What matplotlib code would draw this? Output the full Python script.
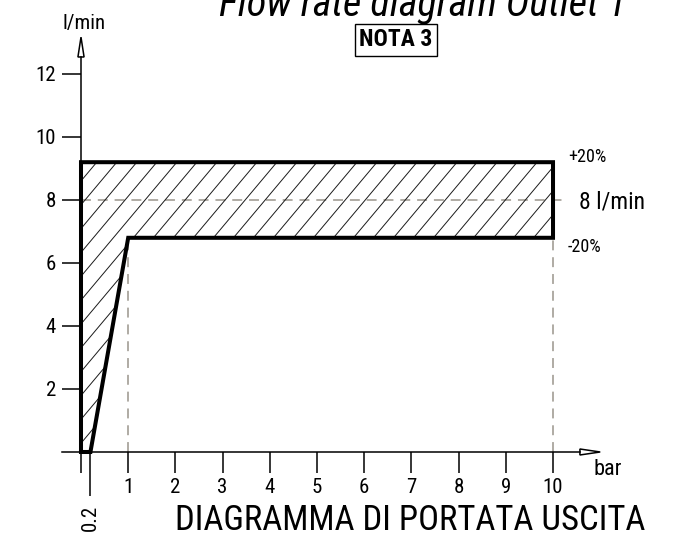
import matplotlib
matplotlib.use('Agg')
import matplotlib.pyplot as plt
import numpy as np
from matplotlib.patches import Polygon

plt.rcParams['font.family'] = ['Roboto Condensed', 'Liberation Sans Narrow',
                               'DejaVu Sans']

# flow band (bar, l/min)
band_bar = [0, 0.2, 1, 10, 10, 0]
band_flow = [0, 0, 6.8, 6.8, 9.2, 9.2]
nominal_flow = 8
knee_bar = [1, 10]
knee_flow = 6.8
x_ticks = [0, 1, 2, 3, 4, 5, 6, 7, 8, 9, 10]
x_labels = ['', '1', '2', '3', '4', '5', '6', '7', '8', '9', '10']
y_ticks = [2, 4, 6, 8, 10, 12]
y_labels = ['2', '4', '6', '8', '10', '12']

GREY = '#9a958c'

fig = plt.figure(figsize=(6.84, 5.4), dpi=100)
ax = fig.add_axes([0, 0, 1, 1])
ax.set_xlim(-1.716, 12.775)
ax.set_ylim(-2.794, 14.349)
ax.patch.set_visible(False)

# axes as spines crossing at the origin
for side in ('top', 'right'):
    ax.spines[side].set_visible(False)
ax.spines['left'].set_position(('data', 0))
ax.spines['bottom'].set_position(('data', 0))
ax.spines['left'].set_bounds(0, 12.54)
ax.spines['bottom'].set_bounds(-0.4, 10.57)
for sp in ('left', 'bottom'):
    ax.spines[sp].set_linewidth(1.1)

ax.set_xticks(x_ticks, x_labels)
ax.set_yticks(y_ticks, y_labels)
ax.set_xticks([0.2], ['0.2'], minor=True)
ax.tick_params(axis='x', which='major', direction='out', length=15, width=1.1,
               pad=4, labelsize=15)
ax.tick_params(axis='x', which='minor', direction='out', length=32, width=1.1,
               pad=6, labelsize=15, labelrotation=90)
ax.tick_params(axis='y', direction='out', length=14, width=1.1, pad=4,
               labelsize=15)

# open arrow heads
ax.add_patch(Polygon([[10.57, 0.095], [11.0, 0], [10.57, -0.095]], closed=True,
                     fill=False, lw=1.1, clip_on=False))
ax.add_patch(Polygon([[-0.065, 12.54], [0, 13.17], [0.065, 12.54]], closed=True,
                     fill=False, lw=1.1, clip_on=False))

# dashed reference lines
ax.plot([0, 10.32], [nominal_flow, nominal_flow], color=GREY, lw=1.1,
        linestyle=(0, (6.5, 4.5)))
for xb in knee_bar:
    ax.plot([xb, xb], [0, knee_flow], color=GREY, lw=1.1,
            linestyle=(0, (6.5, 4.5)))

# hatched tolerance band, hatch drawn as thin lines clipped to the band
band = Polygon(np.column_stack([band_bar, band_flow]), closed=True,
               facecolor='none', edgecolor='none')
ax.add_patch(band)
slope = 1.785
for c in np.arange(-4.82, 10.5, 0.424):
    ln, = ax.plot([c, c + 10 / slope], [0, 10], color='#1a1a1a', lw=0.7)
    ln.set_clip_path(band)
ax.plot(band_bar + band_bar[:1], band_flow + band_flow[:1], color='black',
        lw=2.9, solid_joinstyle='miter')

ax.text(10.32, 9.37, '+20%', fontsize=13, va='center', ha='left')
ax.text(10.55, 7.94, '8 l/min', fontsize=17, va='center', ha='left')
ax.text(10.32, 6.5, '-20%', fontsize=13, va='center', ha='left')
ax.text(10.85, -0.57, 'bar', fontsize=16, va='center', ha='left')

fig.text(84 / 684, 1 - 24 / 540, 'l/min', fontsize=15, ha='center', va='center')
fig.text(423 / 684, 1 - 16 / 540, 'Flow rate diagram Outlet 1', fontsize=29,
         style='italic', ha='center', va='baseline')
fig.text(396 / 684, 1 - 40 / 540, 'NOTA 3', fontsize=17, fontweight='bold',
         ha='center', va='center',
         bbox=dict(boxstyle='square,pad=0.2', facecolor='white',
                   edgecolor='black', linewidth=1.0))
fig.text(410 / 684, 1 - 521 / 540, 'DIAGRAMMA DI PORTATA USCITA', fontsize=25,
         ha='center', va='center')

fig.savefig('out.png', dpi=100)
